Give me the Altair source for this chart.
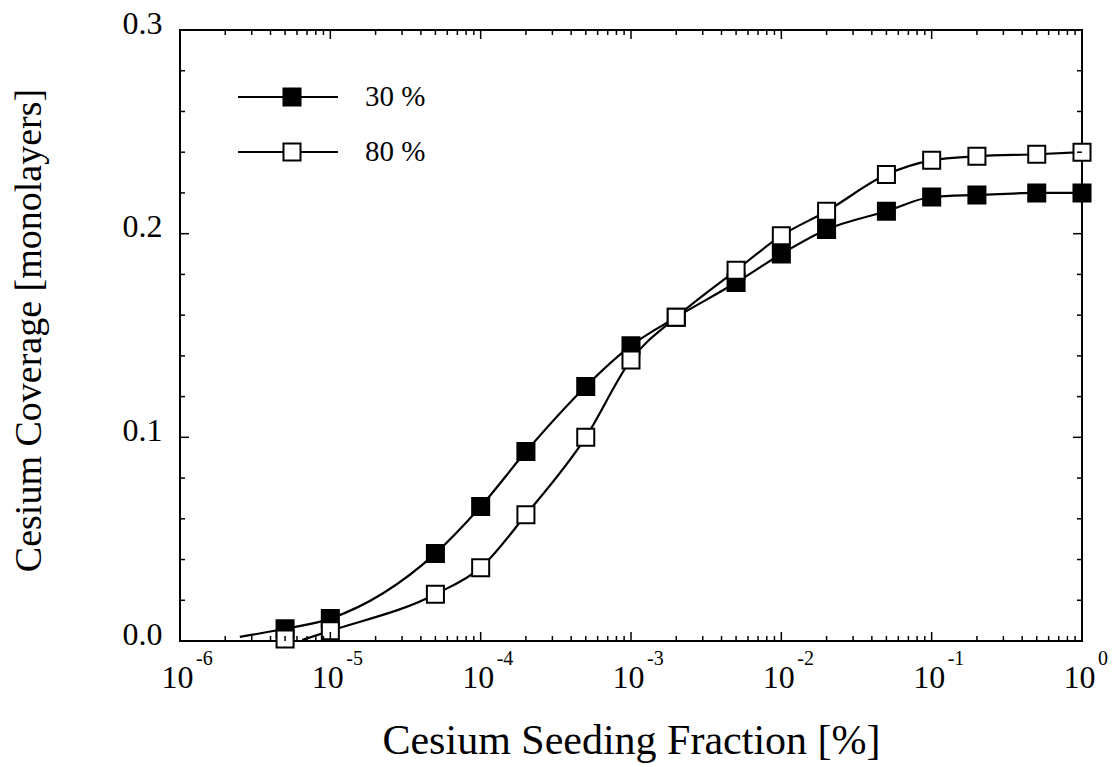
import altair as alt
import pandas as pd

# ---- data ----
seeding = [5e-6, 1e-5, 5e-5, 1e-4, 2e-4, 5e-4, 1e-3, 2e-3, 5e-3, 1e-2, 2e-2, 5e-2, 1e-1, 2e-1, 5e-1, 1.0]
cov_30 = [0.006, 0.011, 0.043, 0.066, 0.093, 0.125, 0.145, 0.159, 0.176, 0.190, 0.202, 0.211, 0.218, 0.219, 0.220, 0.220]
cov_80 = [0.001, 0.005, 0.023, 0.036, 0.062, 0.100, 0.138, 0.159, 0.182, 0.199, 0.211, 0.229, 0.236, 0.238, 0.239, 0.240]

# fitted curves (start of the drawn curve)
curve30_x = [2.5e-6] + seeding
curve30_y = [0.002] + cov_30
curve80_x = [6.5e-6] + seeding[1:]
curve80_y = [0.0005] + cov_80[1:]

series_names = ["30 %", "80 %"]
series_fill = ["black", "white"]

x_major = [1e-6, 1e-5, 1e-4, 1e-3, 1e-2, 1e-1, 1.0]
x_exponents = ["-6", "-5", "-4", "-3", "-2", "-1", "0"]
x_minor = [m * d for d in [1e-6, 1e-5, 1e-4, 1e-3, 1e-2, 1e-1] for m in range(2, 10)]
y_major = [0.0, 0.1, 0.2, 0.3]
y_minor = [0.02, 0.04, 0.06, 0.08, 0.12, 0.14, 0.16, 0.18, 0.22, 0.24, 0.26, 0.28]

W, H = 902, 611
FONT = "Liberation Serif"

pts = pd.DataFrame({
    "x": seeding * 2,
    "y": cov_30 + cov_80,
    "series": [series_names[0]] * len(seeding) + [series_names[1]] * len(seeding),
})
curves = pd.DataFrame({
    "x": curve30_x + curve80_x,
    "y": curve30_y + curve80_y,
    "series": [series_names[0]] * len(curve30_x) + [series_names[1]] * len(curve80_x),
})

xscale = alt.Scale(type="log", domain=[1e-6, 1.0])
yscale = alt.Scale(domain=[0, 0.3], nice=False, zero=False)

x_axis = alt.Axis(values=x_major, labelExpr="'10'", ticks=False, domain=False, grid=False,
                  labelFont=FONT, labelFontSize=32, labelColor="black", labelPadding=21,
                  labelOffset=-3, labelBaseline="top", labelFlush=False, labelOverlap=False,
                  title="Cesium Seeding Fraction [%]", titleFont=FONT, titleFontSize=42,
                  titleFontWeight="normal", titleColor="black",
                  titleBaseline="alphabetic", titleY=112)
y_axis = alt.Axis(values=y_major, format=".1f", ticks=False, domain=False, grid=False,
                  labelFont=FONT, labelFontSize=32, labelColor="black", labelPadding=18,
                  labelOffset=-7, labelFlush=False, labelOverlap=False,
                  title="Cesium Coverage [monolayers]", titleFont=FONT, titleFontSize=38,
                  titleFontWeight="normal", titleColor="black",
                  titleBaseline="alphabetic", titleX=-140, titleY=300)

lines = alt.Chart(curves).mark_line(color="black", strokeWidth=2.2, interpolate="monotone").encode(
    x=alt.X("x:Q", scale=xscale, axis=x_axis),
    y=alt.Y("y:Q", scale=yscale, axis=y_axis),
    detail="series:N",
)

fill_scale = alt.Scale(domain=series_names, range=series_fill)
squares = alt.Chart(pts).mark_square(size=290, stroke="black", strokeWidth=2, opacity=1).encode(
    x=alt.X("x:Q", scale=xscale),
    y=alt.Y("y:Q", scale=yscale),
    fill=alt.Fill("series:N", scale=fill_scale, legend=None),
)

# ---- inward ticks on all four sides ----
xmaj = pd.DataFrame({"x": x_major})
xmin = pd.DataFrame({"x": x_minor})
ymaj = pd.DataFrame({"y": y_major})
ymin = pd.DataFrame({"y": y_minor})

def xticks(df, length):
    b = alt.Chart(df).mark_rule(color="black", strokeWidth=1.5).encode(
        x=alt.X("x:Q", scale=xscale), y=alt.value(H), y2=alt.value(H - length))
    t = alt.Chart(df).mark_rule(color="black", strokeWidth=1.5).encode(
        x=alt.X("x:Q", scale=xscale), y=alt.value(0), y2=alt.value(length))
    return [b, t]

def yticks(df, length):
    l = alt.Chart(df).mark_rule(color="black", strokeWidth=1.5).encode(
        y=alt.Y("y:Q", scale=yscale), x=alt.value(0), x2=alt.value(length))
    r = alt.Chart(df).mark_rule(color="black", strokeWidth=1.5).encode(
        y=alt.Y("y:Q", scale=yscale), x=alt.value(W - length), x2=alt.value(W))
    return [l, r]

tick_layers = xticks(xmaj, 9) + xticks(xmin, 5) + yticks(ymaj, 9) + yticks(ymin, 5)

# exponents of the x tick labels
exps = pd.DataFrame({"x": x_major, "e": x_exponents})
exp_text = alt.Chart(exps).mark_text(font=FONT, fontSize=20, align="left", baseline="alphabetic",
                                     dx=16, color="black").encode(
    x=alt.X("x:Q", scale=xscale), y=alt.value(H + 24), text="e:N")

# ---- legend ----
leg = pd.DataFrame({"series": series_names})
legend_layers = []
for i, name in enumerate(series_names):
    d = leg[leg.series == name]
    yy = 67 + 55 * i
    legend_layers.append(alt.Chart(d).mark_rule(color="black", strokeWidth=2.2).encode(
        x=alt.value(58), x2=alt.value(158), y=alt.value(yy)))
    legend_layers.append(alt.Chart(d).mark_square(size=290, stroke="black", strokeWidth=2, opacity=1).encode(
        x=alt.value(112), y=alt.value(yy), fill=alt.Fill("series:N", scale=fill_scale, legend=None)))
    legend_layers.append(alt.Chart(d).mark_text(font=FONT, fontSize=29, align="left", baseline="middle",
                                                color="black").encode(
        x=alt.value(185), y=alt.value(yy), text="series:N"))

chart = alt.layer(lines, squares, *tick_layers, exp_text, *legend_layers).properties(
    width=W, height=H,
    autosize=alt.AutoSizeParams(type="none"),
    padding={"left": 180, "top": 30, "right": 32, "bottom": 126},
    background="white",
).configure_view(stroke="black", strokeWidth=2)

chart.save("out.html", embed_options={"renderer": "svg", "actions": False})
